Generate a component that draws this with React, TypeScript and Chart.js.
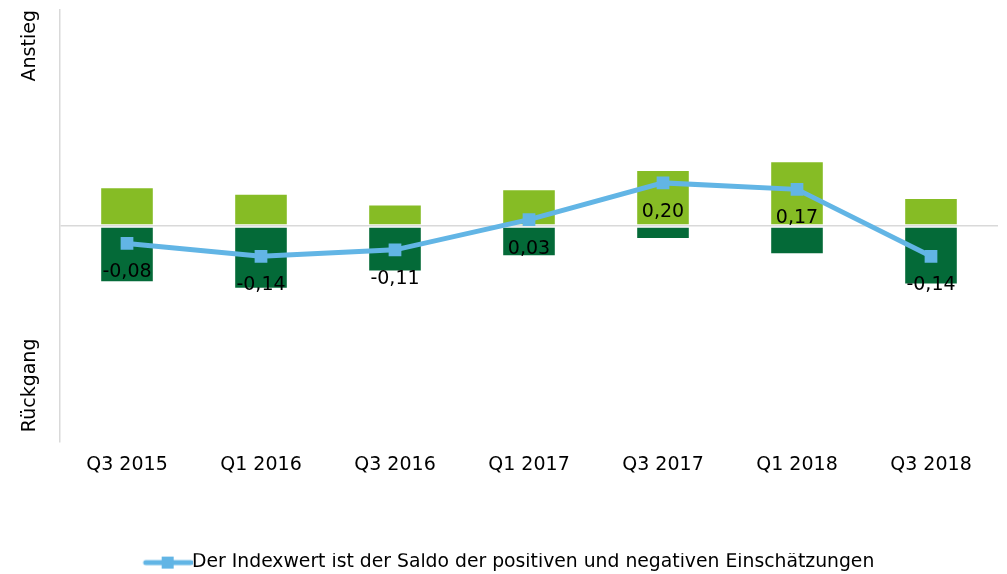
import React, { useEffect, useRef } from "react";
import { Chart, registerables } from "chart.js";

Chart.register(...registerables);

const categories = ["Q3 2015", "Q1 2016", "Q3 2016", "Q1 2017", "Q3 2017", "Q1 2018", "Q3 2018"];
const positiveShares = [0.18, 0.15, 0.10, 0.17, 0.26, 0.30, 0.13];
const negativeShares = [-0.26, -0.29, -0.21, -0.14, -0.06, -0.13, -0.27];
const indexValues = [-0.08, -0.14, -0.11, 0.03, 0.20, 0.17, -0.14];
const legendText = "Der Indexwert ist der Saldo der positiven und negativen Einschätzungen";
const axisTopLabel = "Anstieg";
const axisBottomLabel = "Rückgang";

const FONT = "'DejaVu Sans', Verdana, sans-serif";
const FS = 19;
const LINE_COLOR = "#62B5E5";
const LIGHT_GREEN = "#86BC25";
const DARK_GREEN = "#046A38";
const GRID = "#d9d9d9";

function makeLegendImage(): HTMLCanvasElement {
  const c = document.createElement("canvas");
  c.width = 60;
  c.height = 14;
  const ctx = c.getContext("2d")!;
  ctx.strokeStyle = LINE_COLOR;
  ctx.lineWidth = 5;
  ctx.lineCap = "round";
  ctx.beginPath();
  ctx.moveTo(13, 7);
  ctx.lineTo(58, 7);
  ctx.stroke();
  ctx.fillStyle = LINE_COLOR;
  ctx.fillRect(29, 1, 12, 12);
  return c;
}

const sidePlugin = {
  id: "sideLabels",
  afterDraw(chart: any) {
    const { ctx, chartArea } = chart;
    ctx.save();
    ctx.font = `${FS}px ${FONT}`;
    ctx.fillStyle = "#000";
    ctx.textBaseline = "middle";
    ctx.translate(30, chartArea.top);
    ctx.rotate(-Math.PI / 2);
    ctx.textAlign = "right";
    ctx.fillText(axisTopLabel, 0, 0);
    ctx.restore();
    ctx.save();
    ctx.font = `${FS}px ${FONT}`;
    ctx.fillStyle = "#000";
    ctx.textBaseline = "middle";
    ctx.translate(30, chartArea.bottom - 10);
    ctx.rotate(-Math.PI / 2);
    ctx.textAlign = "left";
    ctx.fillText(axisBottomLabel, 0, 0);
    ctx.restore();
  },
};

const valueLabelPlugin = {
  id: "valueLabels",
  afterDatasetsDraw(chart: any) {
    const { ctx } = chart;
    const meta = chart.getDatasetMeta(2);
    ctx.save();
    ctx.font = `${FS}px ${FONT}`;
    ctx.fillStyle = "#000";
    ctx.textAlign = "center";
    ctx.textBaseline = "middle";
    meta.data.forEach((pt: any, i: number) => {
      const v = indexValues[i];
      ctx.fillText(v.toFixed(2).replace(".", ","), pt.x, pt.y + 29);
    });
    ctx.restore();
  },
};

export default function App() {
  const ref = useRef<HTMLCanvasElement | null>(null);

  useEffect(() => {
    document.body.style.margin = "0";
    if (!ref.current) return;
    const legendImg = makeLegendImage();
    const chart = new Chart(ref.current, {
      type: "bar",
      data: {
        labels: categories,
        datasets: [
          {
            type: "bar",
            label: "positiv",
            data: positiveShares,
            backgroundColor: LIGHT_GREEN,
            borderColor: "#ffffff",
            borderWidth: 1,
            borderSkipped: false,
            barPercentage: 0.4,
            categoryPercentage: 1,
            order: 2,
            stack: "s",
          },
          {
            type: "bar",
            label: "negativ",
            data: negativeShares,
            backgroundColor: DARK_GREEN,
            borderColor: "#ffffff",
            borderWidth: 1,
            borderSkipped: false,
            barPercentage: 0.4,
            categoryPercentage: 1,
            order: 2,
            stack: "s",
          },
          {
            type: "line",
            label: legendText,
            data: indexValues,
            borderColor: LINE_COLOR,
            backgroundColor: LINE_COLOR,
            borderWidth: 5,
            pointStyle: "rect",
            pointRadius: 9,
            pointBorderWidth: 0,
            tension: 0,
            order: 0,
          } as any,
        ],
      },
      options: {
        animation: false,
        responsive: true,
        maintainAspectRatio: false,
        layout: { padding: { left: 16, top: 10, right: 6, bottom: -8 } },
        scales: {
          x: {
            stacked: true,
            grid: { display: false },
            border: { display: false },
            ticks: { color: "#000", font: { family: FONT, size: FS }, padding: 3, maxRotation: 0 },
            afterFit(scale: any) {
              scale.height = 111;
            },
          },
          y: {
            stacked: true,
            min: -1,
            max: 1,
            ticks: { display: false, stepSize: 1 },
            grid: {
              drawTicks: false,
              color: (c: any) => (c.tick && c.tick.value === 0 ? GRID : "rgba(0,0,0,0)"),
              lineWidth: 1.5,
            },
            border: { display: true, color: GRID, width: 1.5 },
            afterFit(scale: any) {
              scale.width = 44;
            },
          },
        },
        plugins: {
          tooltip: { enabled: false },
          legend: {
            position: "bottom",
            labels: {
              color: "#000",
              font: { family: FONT, size: 18.8 },
              padding: 0,
              usePointStyle: true,
              pointStyleWidth: 40,
              filter: (item: any) => item.datasetIndex === 2,
              generateLabels: (ch: any) => {
                const items = Chart.defaults.plugins.legend.labels.generateLabels(ch);
                return items.map((it: any) => ({ ...it, pointStyle: legendImg }));
              },
            },
          },
        },
      },
      plugins: [sidePlugin, valueLabelPlugin],
    });
    return () => chart.destroy();
  }, []);

  return (
    <div style={{ width: 1007, height: 574, position: "relative" }}>
      <canvas ref={ref} />
    </div>
  );
}
